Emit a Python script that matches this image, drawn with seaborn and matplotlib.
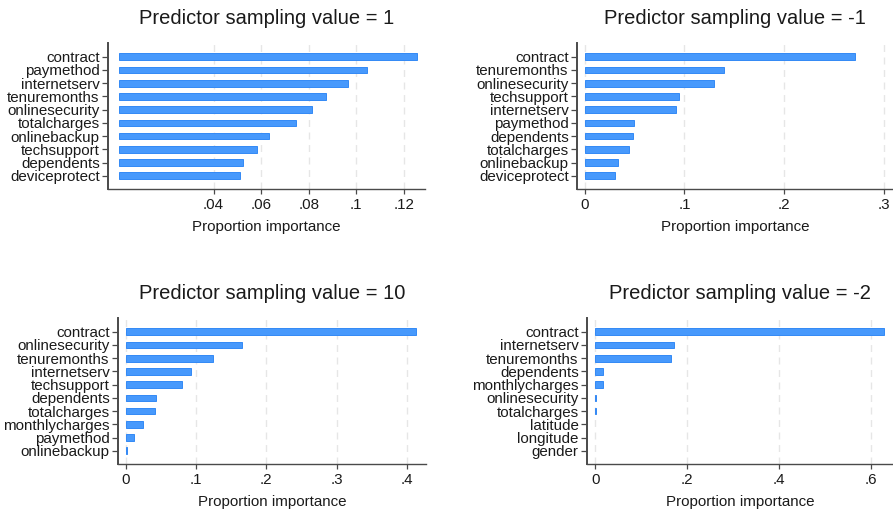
import matplotlib
matplotlib.use('Agg')
import pandas as pd
import matplotlib.pyplot as plt
import seaborn as sns
from matplotlib.ticker import FuncFormatter

sns.set_style('white')
plt.rcParams['font.family'] = ['Liberation Sans', 'DejaVu Sans']

# Panel titles
titles = ['Predictor sampling value = 1', 'Predictor sampling value = -1',
          'Predictor sampling value = 10', 'Predictor sampling value = -2']

# Features and importances per panel
feat_1 = ['contract', 'paymethod', 'internetserv', 'tenuremonths', 'onlinesecurity',
          'totalcharges', 'onlinebackup', 'techsupport', 'dependents', 'deviceprotect']
imp_1 = [0.1256, 0.1046, 0.0967, 0.0873, 0.0814, 0.0747, 0.0633, 0.0583, 0.0524, 0.0512]

feat_2 = ['contract', 'tenuremonths', 'onlinesecurity', 'techsupport', 'internetserv',
          'paymethod', 'dependents', 'totalcharges', 'onlinebackup', 'deviceprotect']
imp_2 = [0.2714, 0.1394, 0.1294, 0.0947, 0.0920, 0.0497, 0.0483, 0.0443, 0.0333, 0.0303]

feat_3 = ['contract', 'onlinesecurity', 'tenuremonths', 'internetserv', 'techsupport',
          'dependents', 'totalcharges', 'monthlycharges', 'paymethod', 'onlinebackup']
imp_3 = [0.413, 0.1648, 0.1235, 0.0926, 0.0807, 0.0432, 0.0423, 0.0242, 0.0124, 0.0024]

feat_4 = ['contract', 'internetserv', 'tenuremonths', 'dependents', 'monthlycharges',
          'onlinesecurity', 'totalcharges', 'latitude', 'longitude', 'gender']
imp_4 = [0.629, 0.1718, 0.165, 0.0167, 0.0165, 0.0015, 0.0015, 0.0, 0.0, 0.0]

# Tick values for each panel
ticks_1 = [0.04, 0.06, 0.08, 0.1, 0.12]
ticks_2 = [0, 0.1, 0.2, 0.3]
ticks_3 = [0, 0.1, 0.2, 0.3, 0.4]
ticks_4 = [0, 0.2, 0.4, 0.6]

panels = [
    (feat_1, imp_1, ticks_1, (-0.0045, 0.129), (108, 425, 43, 189)),
    (feat_2, imp_2, ticks_2, (-0.0077, 0.309), (577, 893, 43, 189)),
    (feat_3, imp_3, ticks_3, (-0.011, 0.427), (118, 426, 318, 464)),
    (feat_4, imp_4, ticks_4, (-0.018, 0.648), (587, 893, 318, 464)),
]

W, H = 893, 509


def stata_fmt(v, pos):
    s = f'{v:g}'
    if s.startswith('0.'):
        s = s[1:]
    elif s.startswith('-0.'):
        s = '-' + s[2:]
    return s


fig = plt.figure(figsize=(W / 100, H / 100), dpi=100)

for title, (feats, imps, ticks, xlim, box) in zip(titles, panels):
    left, right, top, bottom = box
    ax = fig.add_axes([left / W, 1 - bottom / H, (right - left) / W, (bottom - top) / H])
    df = pd.DataFrame({'feature': feats, 'importance': imps})
    sns.barplot(data=df, x='importance', y='feature', orient='h', color='#4799fc',
                width=0.5, saturation=1, edgecolor='#3389f5', linewidth=0.7, ax=ax)
    # zero-valued bars draw nothing
    for p in ax.patches:
        if p.get_width() == 0:
            p.set_visible(False)
    ax.set_xlim(*xlim)
    ax.set_ylim(len(feats) - 1 + 1.0, -1.04)
    ax.set_xticks(ticks)
    ax.xaxis.set_major_formatter(FuncFormatter(stata_fmt))
    ax.grid(axis='x', color='#e6e6e6', linestyle=(0, (5, 4)), linewidth=1.0)
    ax.set_axisbelow(True)
    for side in ['top', 'right']:
        ax.spines[side].set_visible(False)
    ax.spines['left'].set_color('#4a4a4a')
    ax.spines['left'].set_linewidth(1.4)
    ax.spines['bottom'].set_color('#4a4a4a')
    ax.spines['bottom'].set_linewidth(1.0)
    ax.tick_params(axis='y', left=True, length=4.5, width=0.9, color='#4a4a4a',
                   pad=1.5, labelsize=10.9, labelcolor='#1a1a1a')
    ax.tick_params(axis='x', bottom=True, length=3.5, width=0.9, color='#4a4a4a',
                   pad=3, labelsize=10.9, labelcolor='#1a1a1a')
    ax.set_ylabel('')
    ax.set_xlabel('Proportion importance', fontsize=10.9, color='#1a1a1a', labelpad=6)
    ax.set_title(title, fontsize=14.5, color='#1a1a1a', pad=14)

plt.savefig('out.png', dpi=100)
